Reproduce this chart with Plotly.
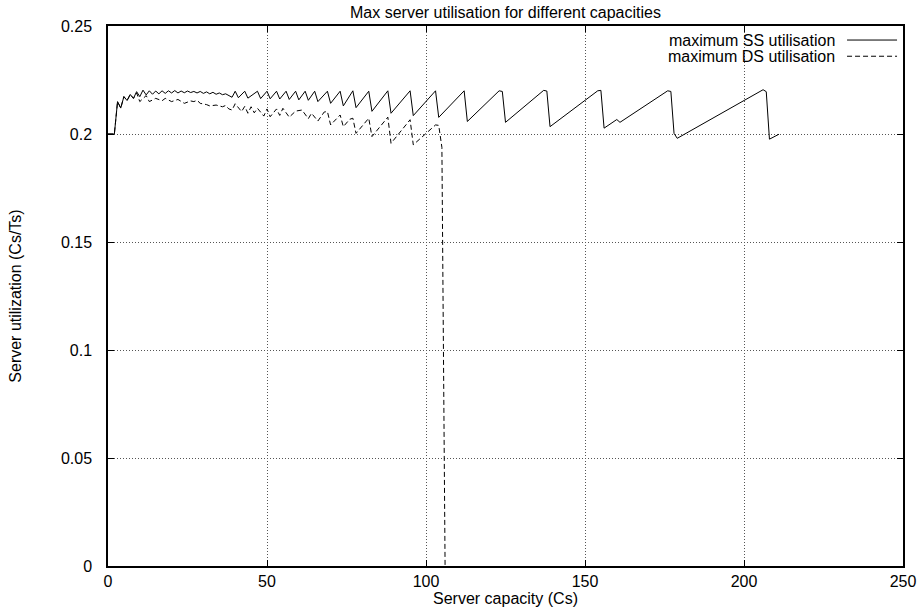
import plotly.graph_objects as go

# ---- data ----
ss_x = [0, 1, 2, 3, 4, 5, 6, 7, 8, 9, 10, 11, 12, 13, 14, 15, 16, 17, 18, 19,
        20, 21, 22, 23, 24, 25, 26, 27, 28, 29, 30, 31, 32, 33, 34, 35, 36, 37,
        38, 39, 40, 41, 43, 44, 47, 48, 50, 51, 53, 54, 56, 57, 59, 60, 62, 63,
        65, 66, 69, 70, 73, 74, 77, 78, 82, 83, 88, 89, 95, 96, 103, 104, 112,
        113, 123, 124, 125, 137, 138, 139, 154, 155, 156, 160, 161, 176, 177,
        178, 179, 205, 206, 207, 208, 211]
ss_y = [0.2000, 0.2000, 0.2000, 0.2150, 0.2120, 0.2173, 0.2155, 0.2183, 0.2165,
        0.2196, 0.2173, 0.2203, 0.2181, 0.2200, 0.2184, 0.2199, 0.2186, 0.2200,
        0.2188, 0.2200, 0.2190, 0.2201, 0.2190, 0.2199, 0.2191, 0.2199, 0.2192,
        0.2197, 0.2190, 0.2197, 0.2188, 0.2195, 0.2186, 0.2193, 0.2184, 0.2190,
        0.2182, 0.2186, 0.2176, 0.2170, 0.2198, 0.2168, 0.2198, 0.2166, 0.2198,
        0.2164, 0.2198, 0.2163, 0.2198, 0.2162, 0.2198, 0.2160, 0.2198, 0.2158,
        0.2198, 0.2156, 0.2198, 0.2150, 0.2198, 0.2142, 0.2198, 0.2130, 0.2200,
        0.2122, 0.2198, 0.2105, 0.2200, 0.2096, 0.2200, 0.2085, 0.2200, 0.2077,
        0.2200, 0.2058, 0.2200, 0.2197, 0.2054, 0.2202, 0.2199, 0.2034, 0.2200,
        0.2202, 0.2027, 0.2067, 0.2054, 0.2200, 0.2197, 0.2003, 0.1980, 0.2200,
        0.2205, 0.2196, 0.1976, 0.1999]

ds_x = [0, 1, 2, 3, 4, 5, 6, 7, 8, 9, 10, 12, 13, 15, 17, 18, 20, 22, 24, 26,
        27, 28, 29, 31, 32, 34, 36, 37, 38, 39, 40, 42, 43, 44, 45, 46, 47, 49,
        50, 51, 53, 54, 55, 57, 59, 61, 63, 64, 66, 68, 69, 70, 73, 74, 76, 77,
        78, 82, 83, 88, 89, 95, 96, 103, 104, 105, 106]
ds_y = [0.2000, 0.2000, 0.2000, 0.2150, 0.2120, 0.2173, 0.2155, 0.2183, 0.2165,
        0.2190, 0.2150, 0.2178, 0.2150, 0.2165, 0.2154, 0.2165, 0.2150, 0.2160,
        0.2142, 0.2153, 0.2150, 0.2156, 0.2142, 0.2136, 0.2130, 0.2134, 0.2126,
        0.2132, 0.2116, 0.2111, 0.2140, 0.2104, 0.2128, 0.2096, 0.2126, 0.2098,
        0.2119, 0.2083, 0.2116, 0.2080, 0.2116, 0.2086, 0.2119, 0.2078, 0.2106,
        0.2111, 0.2071, 0.2096, 0.2060, 0.2102, 0.2104, 0.2042, 0.2088, 0.2034,
        0.2068, 0.2073, 0.2003, 0.2073, 0.1988, 0.2078, 0.1957, 0.2066, 0.1950,
        0.2042, 0.2040, 0.1938, 0.0]

x_ticks = [0, 50, 100, 150, 200, 250]
y_ticks = [0, 0.05, 0.1, 0.15, 0.2, 0.25]
y_tick_labels = ["0", "0.05", "0.1", "0.15", "0.2", "0.25"]

series_names = ["maximum SS utilisation", "maximum DS utilisation"]
DASH = "5px,3px"

FONT = "Liberation Sans, Arial, Helvetica, sans-serif"

fig = go.Figure()
fig.add_trace(go.Scatter(x=ss_x, y=ss_y, mode="lines", name=series_names[0],
                         line=dict(color="black", width=1), showlegend=False))
fig.add_trace(go.Scatter(x=ds_x, y=ds_y, mode="lines", name=series_names[1],
                         line=dict(color="black", width=1, dash=DASH),
                         showlegend=False))

axis_common = dict(
    showline=True, linecolor="black", linewidth=1.5, mirror="allticks",
    ticks="inside", ticklen=6, tickwidth=1, tickcolor="black",
    showgrid=True, gridcolor="#555555", gridwidth=1, griddash="1px,2px",
    zeroline=False, automargin=False,
    tickfont=dict(family=FONT, size=16, color="black"),
)

fig.update_layout(
    width=920, height=611,
    margin=dict(l=108, r=17, t=26, b=45, autoexpand=False),
    paper_bgcolor="white", plot_bgcolor="white",
    font=dict(family=FONT, size=16, color="black"),
    title=dict(text="Max server utilisation for different capacities",
               x=0.5, xref="paper", xanchor="center",
               y=1 - 12 / 611, yref="container", yanchor="middle",
               font=dict(family=FONT, size=16, color="black")),
    xaxis=dict(range=[0, 250], tickvals=x_ticks,
               title=dict(text="Server capacity (Cs)", standoff=2,
                          font=dict(family=FONT, size=16)),
               ticklabelstandoff=0, **axis_common),
    yaxis=dict(range=[0, 0.25], tickvals=y_ticks, ticktext=y_tick_labels,
               title=dict(text="Server utilization (Cs/Ts)", standoff=35,
                          font=dict(family=FONT, size=16)),
               ticklabelstandoff=11, **axis_common),
)

# key (text on the left, line sample on the right, as in the reference)
legend_rows = [0.974, 0.944]
for name, yy, dash in zip(series_names, legend_rows, [None, DASH]):
    fig.add_annotation(text=name, xref="paper", yref="paper", x=0.917, y=yy,
                       xanchor="right", yanchor="middle", showarrow=False,
                       font=dict(family=FONT, size=16, color="black"))
    fig.add_shape(type="line", xref="paper", yref="paper", x0=0.9296, x1=0.9925,
                  y0=yy, y1=yy, line=dict(color="black", width=1, dash=dash))

fig.write_html("out.html", config={"displayModeBar": False},
               post_script="document.body.style.margin='0px';")
